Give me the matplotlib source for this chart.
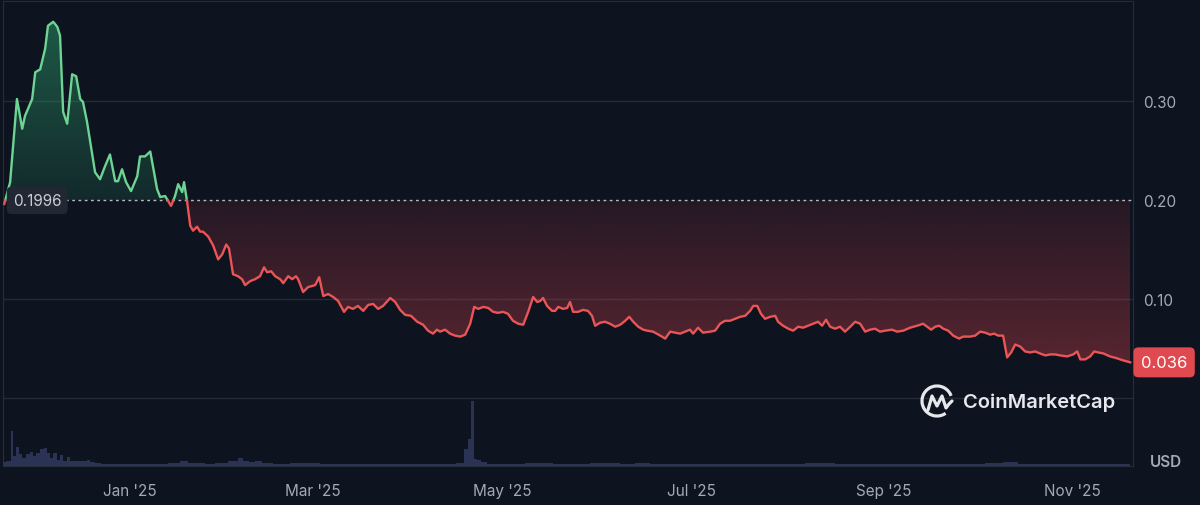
import numpy as np
import matplotlib
matplotlib.use("Agg")
import matplotlib.pyplot as plt
import matplotlib.dates as mdates
from matplotlib.path import Path
from matplotlib.patches import Arc
from matplotlib.ticker import FormatStrFormatter
from datetime import datetime

# ---- data (days counted from 1 Jan 2025) ----
start_date = datetime(2025, 1, 1)
baseline = 0.1996
last_price = 0.036

day_offset = [
    -40.6, -38.7, -36.5, -34.8, -33.9, -31.6, -30.6, -29.0, -27.4, -26.5,
    -24.8, -23.5, -22.6, -21.6, -20.3, -18.7, -17.4, -16.1, -15.2, -13.9,
    -11.3, -9.7, -8.1, -6.5, -4.8, -3.9, -2.6, -1.3, 0.3, 2.3,
    3.2, 4.8, 6.5, 8.7, 9.7, 11.3, 13.2, 14.5, 15.5, 16.8,
    17.4, 18.4, 19.4, 20.3, 21.6, 22.6, 23.5, 25.2, 26.8, 28.4,
    29.7, 31.0, 31.9, 33.2, 34.8, 36.1, 37.1, 38.7, 40.3, 41.9,
    43.2, 44.2, 45.5, 46.8, 48.4, 49.4, 51.0, 52.3, 53.5, 54.2,
    55.8, 57.4, 59.7, 61.0, 62.3, 63.9, 65.5, 67.1, 69.0, 70.3,
    71.9, 73.5, 75.2, 76.8, 78.4, 80.0, 81.6, 83.9, 85.5, 87.1,
    88.7, 90.6, 92.6, 94.5, 96.1, 97.7, 99.0, 100.0, 101.6, 103.2,
    104.8, 106.5, 108.1, 109.7, 111.0, 112.3, 113.9, 115.5, 117.1, 118.7,
    120.3, 121.9, 123.5, 125.2, 126.8, 128.4, 130.0, 131.3, 132.3, 133.2,
    134.5, 136.1, 137.1, 138.1, 139.7, 141.0, 141.9, 142.9, 144.5, 146.1,
    147.7, 149.0, 150.0, 151.6, 153.2, 154.8, 156.5, 158.1, 159.7, 161.0,
    162.3, 163.9, 165.5, 166.8, 168.7, 171.0, 172.6, 174.2, 175.8, 177.4,
    179.0, 180.6, 181.6, 183.2, 184.8, 187.1, 188.7, 190.3, 191.9, 193.5,
    195.2, 196.8, 198.4, 200.0, 201.0, 202.3, 203.5, 204.8, 206.5, 208.1,
    209.0, 210.6, 212.3, 213.9, 215.5, 217.1, 218.7, 220.3, 221.9, 223.2,
    224.5, 225.8, 227.4, 229.0, 230.6, 232.3, 233.9, 235.5, 237.1, 238.7,
    240.3, 241.9, 243.5, 245.8, 247.4, 249.4, 251.6, 253.9, 255.8, 257.1,
    258.4, 259.7, 261.0, 262.3, 263.9, 265.5, 267.4, 268.7, 271.0, 272.6,
    274.2, 275.8, 277.4, 278.7, 280.0, 281.6, 282.9, 284.2, 285.5, 287.1,
    288.7, 290.3, 291.9, 293.5, 295.2, 296.8, 298.4, 300.0, 302.3, 304.2,
    305.5, 306.5, 308.1, 309.7, 311.0, 312.3, 313.9, 316.1, 318.4, 320.3,
    322.6]

price_usd = [
    0.196, 0.218, 0.302, 0.272, 0.285, 0.302, 0.329, 0.332, 0.353, 0.376,
    0.380, 0.375, 0.366, 0.289, 0.277, 0.327, 0.325, 0.302, 0.299, 0.279,
    0.228, 0.221, 0.234, 0.246, 0.219, 0.219, 0.231, 0.218, 0.209, 0.224,
    0.244, 0.244, 0.249, 0.211, 0.203, 0.204, 0.194, 0.204, 0.216, 0.208,
    0.218, 0.198, 0.174, 0.169, 0.173, 0.168, 0.168, 0.163, 0.154, 0.140,
    0.145, 0.155, 0.151, 0.125, 0.123, 0.120, 0.114, 0.118, 0.120, 0.123,
    0.132, 0.127, 0.128, 0.123, 0.120, 0.116, 0.123, 0.120, 0.123, 0.120,
    0.107, 0.112, 0.114, 0.122, 0.103, 0.105, 0.102, 0.098, 0.087, 0.092,
    0.090, 0.093, 0.088, 0.094, 0.095, 0.090, 0.093, 0.101, 0.097, 0.089,
    0.084, 0.083, 0.077, 0.074, 0.068, 0.065, 0.069, 0.067, 0.069, 0.065,
    0.063, 0.062, 0.064, 0.075, 0.092, 0.090, 0.092, 0.091, 0.087, 0.086,
    0.087, 0.085, 0.078, 0.075, 0.074, 0.087, 0.102, 0.097, 0.098, 0.101,
    0.093, 0.088, 0.088, 0.092, 0.090, 0.091, 0.097, 0.087, 0.087, 0.089,
    0.088, 0.083, 0.073, 0.076, 0.077, 0.075, 0.072, 0.074, 0.078, 0.082,
    0.077, 0.072, 0.069, 0.068, 0.067, 0.063, 0.060, 0.067, 0.066, 0.065,
    0.067, 0.069, 0.065, 0.071, 0.066, 0.067, 0.068, 0.075, 0.078, 0.078,
    0.080, 0.082, 0.083, 0.088, 0.093, 0.093, 0.085, 0.080, 0.082, 0.083,
    0.077, 0.073, 0.070, 0.068, 0.072, 0.071, 0.073, 0.075, 0.077, 0.073,
    0.079, 0.072, 0.070, 0.072, 0.067, 0.072, 0.077, 0.075, 0.067, 0.069,
    0.070, 0.067, 0.068, 0.069, 0.067, 0.068, 0.071, 0.073, 0.075, 0.072,
    0.069, 0.072, 0.073, 0.070, 0.068, 0.063, 0.060, 0.062, 0.062, 0.063,
    0.067, 0.066, 0.064, 0.065, 0.063, 0.063, 0.041, 0.046, 0.054, 0.052,
    0.047, 0.046, 0.047, 0.045, 0.043, 0.044, 0.044, 0.043, 0.042, 0.044,
    0.047, 0.039, 0.039, 0.042, 0.047, 0.046, 0.045, 0.042, 0.040, 0.038,
    0.036]

vol_day = [
    -41.3, -38.7, -38.0, -37.4, -36.5, -35.5, -34.2, -32.9, -31.9, -30.9,
    -29.7, -28.4, -27.4, -26.5, -25.5, -24.2, -23.2, -22.3, -21.0, -20.0,
    -18.7, -17.4, -16.1, -14.5, -13.5, -12.3, -10.6, -8.1, -3.2, 3.2,
    9.7, 14.5, 17.7, 19.4, 22.6, 25.8, 29.0, 33.9, 35.5, 37.1,
    39.4, 41.3, 43.5, 48.4, 54.8, 58.0, 64.5, 71.0, 80.6, 87.1,
    96.8, 103.2, 107.1, 108.4, 109.4, 110.3, 111.3, 112.3, 114.2, 116.1,
    119.4, 125.8, 129.0, 133.9, 138.7, 145.2, 151.6, 154.8, 161.3, 164.5,
    171.0, 177.4, 183.9, 193.5, 203.2, 212.9, 222.6, 232.3, 241.9, 251.6,
    261.3, 271.0, 280.6, 282.3, 290.3, 300.0, 309.7, 322.6]

vol_rel = [
    4, 5, 35, 10, 19, 12, 8, 12, 14, 10,
    13, 17, 18, 13, 8, 13, 6, 11, 5, 9,
    5, 5, 5, 5, 6, 4, 3, 2, 2, 2,
    2, 3, 5, 3, 3, 2, 3, 5, 8, 5,
    4, 5, 3, 2, 3, 3, 2, 2, 2, 2,
    2, 2, 3, 17, 27, 65, 7, 6, 4, 2,
    2, 2, 3, 3, 2, 2, 3, 3, 2, 3,
    2, 2, 2, 2, 2, 2, 3, 2, 2, 2,
    2, 2, 3, 4, 2, 2, 2, 2]

# ---- style ----
BG = '#0d131f'
GREEN = '#6fd393'
RED = '#ea5557'
GRID = '#232a38'
TXT = '#a4aab5'
plt.rcParams['font.family'] = ['Inter', 'DejaVu Sans']

t0 = mdates.date2num(start_date)
t = t0 + np.array(day_offset)
p = np.array(price_usd)

# add crossing points so the colour switches right on the baseline
tt, pp = [t[0]], [p[0]]
for i in range(len(p) - 1):
    d0, d1 = p[i] - baseline, p[i + 1] - baseline
    if d0 * d1 < 0:
        f = d0 / (d0 - d1)
        tt.append(t[i] + f * (t[i + 1] - t[i]))
        pp.append(baseline)
    tt.append(t[i + 1])
    pp.append(p[i + 1])
tt = np.array(tt)
pp = np.array(pp)

fig = plt.figure(figsize=(12, 5.06), dpi=100, facecolor=BG)
ax = fig.add_axes([3 / 1200, 1 - 467 / 506, 1130 / 1200, 465 / 506])
ax.set_facecolor(BG)

# volume in the bottom strip
axv = ax.twinx()
axv.fill_between(t0 + np.array(vol_day), vol_rel, step='mid', color='#2b3354', lw=0)
axv.set_ylim(0, max(vol_rel) * 465 / 65)
axv.axis('off')


def grad_fill(lo, hi, color, a_lo, a_hi, upper):
    g = np.zeros((256, 1, 4))
    g[..., :3] = matplotlib.colors.to_rgb(color)
    g[:, 0, 3] = np.linspace(a_lo, a_hi, 256)
    im = ax.imshow(g, extent=[tt[0], tt[-1], lo, hi], origin='lower',
                   aspect='auto', zorder=1, interpolation='bilinear')
    curve = np.maximum(pp, baseline) if upper else np.minimum(pp, baseline)
    verts = list(zip(tt, curve)) + [(tt[-1], baseline), (tt[0], baseline), (tt[0], curve[0])]
    im.set_clip_path(Path(verts), transform=ax.transData)


grad_fill(baseline, p.max(), '#2fa06e', 0.16, 0.50, True)
grad_fill(p.min(), baseline, '#c8404a', 0.40, 0.13, False)

up = np.where(pp >= baseline - 1e-9, pp, np.nan)
dn = np.where(pp <= baseline + 1e-9, pp, np.nan)
ax.plot(tt, up, color=GREEN, lw=1.7, zorder=3, solid_joinstyle='round')
ax.plot(tt, dn, color=RED, lw=1.7, zorder=3, solid_joinstyle='round')

for y in [0.0, 0.1, 0.3]:
    ax.axhline(y, color=GRID, lw=1, zorder=0.5)
ax.axhline(baseline, color='#b5b9c2', lw=1, ls=(0, (2, 2.5)), zorder=2)

ax.set_xlim(t0 - 41.0, t0 + 323.5)
ax.set_ylim(-0.0687, 0.401)

for s in ax.spines.values():
    s.set_color('#262d3b')
for s in axv.spines.values():
    s.set_visible(False)

ax.yaxis.tick_right()
ax.set_yticks([0.1, 0.2, 0.3])
ax.yaxis.set_major_formatter(FormatStrFormatter('%.2f'))
ax.tick_params(axis='y', length=0, pad=7, labelsize=11, labelcolor=TXT)
ax.xaxis.set_major_locator(mdates.MonthLocator(bymonth=[1, 3, 5, 7, 9, 11]))
ax.xaxis.set_major_formatter(mdates.DateFormatter("%b '%y"))
ax.tick_params(axis='x', length=0, pad=12, labelsize=11, labelcolor=TXT)

ax.text(0.0088, baseline, '0.1996', transform=ax.get_yaxis_transform(), ha='left',
        va='center', color='#c9cdd5', fontsize=11, zorder=5,
        bbox=dict(boxstyle='round,pad=0.4,rounding_size=0.3', fc='#222734', ec='none'))
ax.text(1.007, last_price, '0.036', transform=ax.get_yaxis_transform(), ha='left',
        va='center', color='white', fontsize=12, zorder=6, clip_on=False,
        bbox=dict(boxstyle='round,pad=0.45,rounding_size=0.3', fc='#e0494f', ec='none'))

# watermark + unit label, in pixel coordinates
ov = fig.add_axes([0, 0, 1, 1])
ov.set_xlim(0, 1200)
ov.set_ylim(0, 506)
ov.axis('off')
ov.patch.set_alpha(0)
logo_c = '#e6e8ec'
ov.add_patch(Arc((937, 104), 30, 30, theta1=20, theta2=305, lw=2.3, color=logo_c))
ov.plot([928, 932, 937, 942, 946, 949, 952], [95, 109, 99, 109, 97, 101, 104],
        color=logo_c, lw=2.3, solid_joinstyle='round', solid_capstyle='round')
ov.text(963, 103, 'CoinMarketCap', ha='left', va='center', fontsize=14.5,
        fontweight='semibold', color=logo_c)
ov.text(1166, 506 - 463, 'USD', ha='center', va='center', fontsize=11,
        fontweight='semibold', color=TXT)

fig.savefig('out.png', dpi=100, facecolor=BG)
